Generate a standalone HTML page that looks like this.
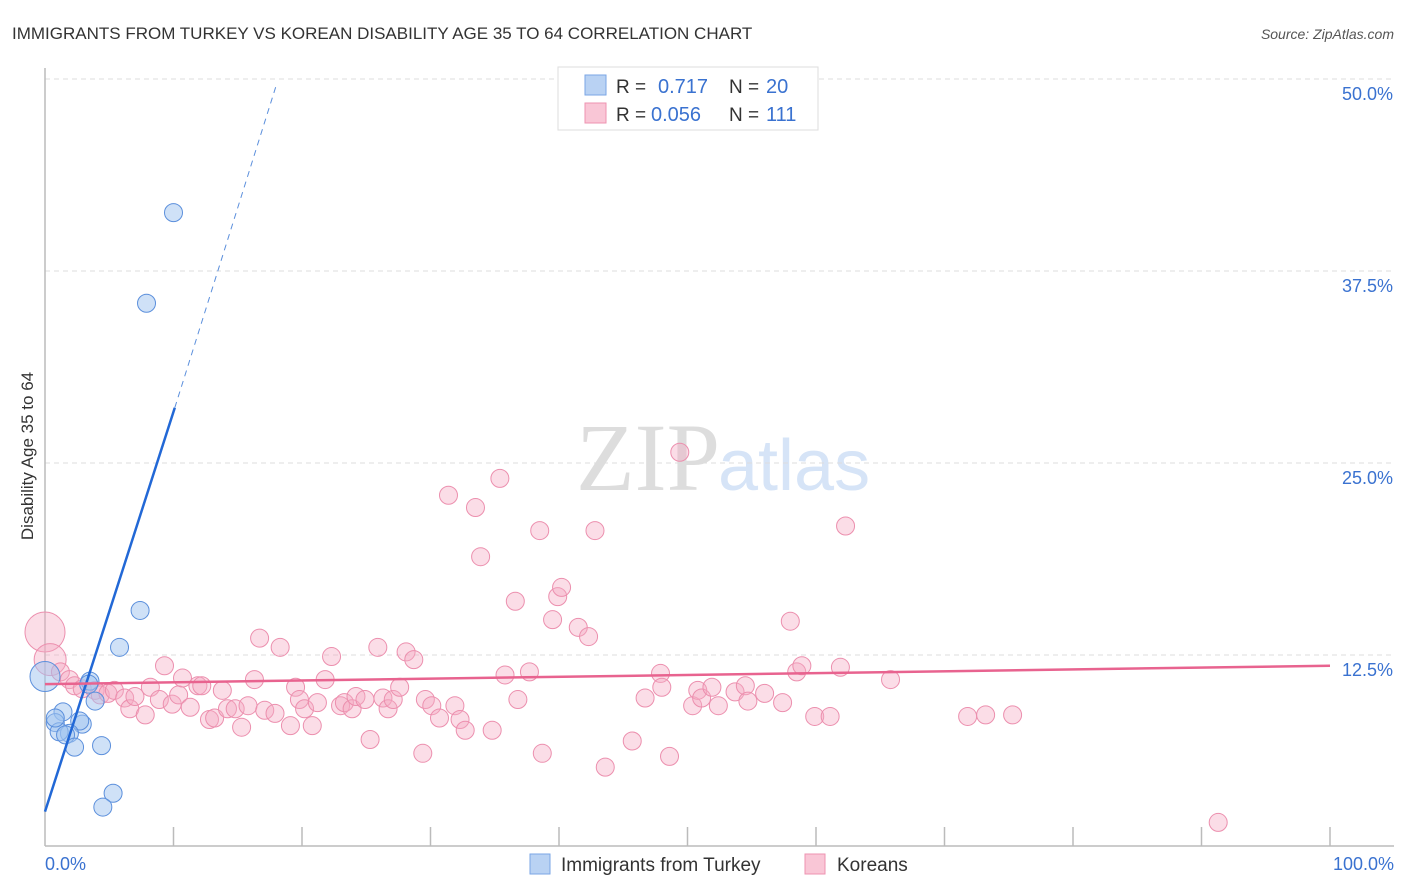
<!DOCTYPE html>
<html><head><meta charset="utf-8"><style>
body{margin:0;background:#fff;font-family:"Liberation Sans",sans-serif;}
svg{display:block}
</style></head><body>
<svg id="chart" width="1406" height="892" xmlns="http://www.w3.org/2000/svg">
<text x="12" y="39" font-size="17" fill="#333">IMMIGRANTS FROM TURKEY VS KOREAN DISABILITY AGE 35 TO 64 CORRELATION CHART</text>
<text x="1394" y="39" font-size="14" fill="#555" text-anchor="end" font-style="italic">Source: ZipAtlas.com</text>
<text x="720" y="490" font-size="96" text-anchor="end" fill="#ddd" font-family="Liberation Serif, serif">ZIP</text>
<text x="718" y="490" font-size="72" fill="#d6e4f7">atlas</text>
<g id="grid"></g>
<line x1="45" y1="68" x2="45" y2="846" stroke="#bbb" stroke-width="1.5"/>
<line x1="45" y1="846" x2="1394" y2="846" stroke="#bbb" stroke-width="1.5"/>
<text transform="translate(33,456) rotate(-90)" font-size="17" fill="#333" text-anchor="middle">Disability Age 35 to 64</text>
<text x="45" y="870" font-size="18" fill="#3a72d0">0.0%</text>
<text x="1394" y="870" font-size="18" fill="#3a72d0" text-anchor="end">100.0%</text>
<g id="pts"></g>
<g id="lines"></g>
<g>
<rect x="558" y="67" width="260" height="63" fill="#fff" stroke="#ddd"/>
<rect x="585" y="75" width="21" height="20" fill="#b9d2f3" stroke="#7aa6e6"/>
<rect x="585" y="103" width="21" height="20" fill="#f9c6d6" stroke="#ee93b0"/>
<text x="616" y="93" font-size="19" fill="#333">R = </text><text x="658" y="93" font-size="20" fill="#3a72d0">0.717</text>
<text x="729" y="93" font-size="19" fill="#333">N = </text><text x="766" y="93" font-size="20" fill="#3a72d0">20</text>
<text x="616" y="121" font-size="19" fill="#333">R = </text><text x="651" y="121" font-size="20" fill="#3a72d0">0.056</text>
<text x="729" y="121" font-size="19" fill="#333">N = </text><text x="766" y="121" font-size="20" fill="#3a72d0">111</text>
</g>
<g>
<rect x="530" y="854" width="20" height="20" fill="#b9d2f3" stroke="#7aa6e6"/>
<text x="561" y="871" font-size="19" fill="#333">Immigrants from Turkey</text>
<rect x="805" y="854" width="20" height="20" fill="#f9c6d6" stroke="#ee93b0"/>
<text x="837" y="871" font-size="19" fill="#333">Koreans</text>
</g>
</svg>
<script>
const yTicks=[12.5,25,37.5,50];
const yTickLabels=["12.5%","25.0%","37.5%","50.0%"];
const xTicks=[0,10,20,30,40,50,60,70,80,90,100];
const blueX=[0,10.0,7.9,7.4,5.8,3.5,3.9,3.4,1.4,0.8,2.9,2.7,1.9,1.1,1.6,2.3,4.4,5.3,4.5,0.8];
const blueY=[11.1,41.3,35.4,15.4,13.0,10.8,9.5,10.6,8.8,8.1,8.0,8.2,7.4,7.5,7.3,6.5,6.6,3.5,2.6,8.4];
const pinkX=[
0,0.4,1.2,1.9,2.3,2.9,3.9,4.3,4.9,5.4,
6.2,6.6,7.0,7.8,8.2,8.9,9.3,9.9,10.4,10.7,
11.3,11.9,12.2,12.8,13.2,13.8,14.2,14.8,15.3,15.8,
16.3,16.7,17.1,17.9,18.3,19.1,19.5,19.8,20.2,20.8,
21.2,21.8,22.3,23.0,23.3,23.9,24.2,24.9,25.3,25.9,
26.3,26.7,27.1,27.6,28.1,28.7,31.4,29.4,29.6,30.1,
30.7,31.9,32.3,32.7,33.5,33.9,34.8,35.4,35.8,36.6,
36.8,37.7,38.5,38.7,39.5,39.9,40.2,41.5,42.3,42.8,
43.6,45.7,46.7,47.9,48.0,48.6,49.4,50.4,50.8,51.1,
51.9,52.4,53.7,54.5,54.7,56.0,57.4,58.0,58.5,58.9,
59.9,61.1,61.9,62.3,65.8,71.8,73.2,75.3,91.3];
const pinkY=[
14.0,12.2,11.4,10.9,10.5,10.3,10.2,9.9,10.0,10.2,
9.7,9.0,9.8,8.6,10.4,9.6,11.8,9.3,9.9,11.0,
9.1,10.5,10.5,8.3,8.4,10.2,9.0,9.0,7.8,9.2,
10.9,13.6,8.9,8.7,13.0,7.9,10.4,9.6,9.0,7.9,
9.4,10.9,12.4,9.2,9.4,9.0,9.8,9.6,7.0,13.0,
9.7,9.0,9.6,10.4,12.7,12.2,22.9,6.1,9.6,9.2,
8.4,9.2,8.3,7.6,22.1,18.9,7.6,24.0,11.2,16.0,
9.6,11.4,20.6,6.1,14.8,16.3,16.9,14.3,13.7,20.6,
5.2,6.9,9.7,11.3,10.4,5.9,25.7,9.2,10.2,9.7,
10.4,9.2,10.1,10.5,9.5,10.0,9.4,14.7,11.4,11.8,
8.5,8.5,11.7,20.9,10.9,8.5,8.6,8.6,1.6];
const blueLine=[0,2.3,10.1,28.6,18.0,49.6];
const pinkLine=[0,10.6,100,11.8];
const X=v=>45+v*12.85, Y=v=>847-v*15.36;
const NS="http://www.w3.org/2000/svg";
const mk=(t,a,p)=>{const e=document.createElementNS(NS,t);for(const k in a)e.setAttribute(k,a[k]);p.appendChild(e);return e;};
const grid=document.getElementById('grid');
yTicks.forEach((t,i)=>{
 const l=mk('line',{x1:45,x2:1394,y1:Y(t),y2:Y(t),stroke:'#ddd','stroke-dasharray':'5,4'},grid);
 
 
 const tx=mk('text',{x:1393,y:Y(t)+21,'font-size':18,fill:'#3a72d0','text-anchor':'end'},grid);
 tx.textContent=yTickLabels[i];
 
 
});
xTicks.forEach(t=>{
 if(t===0)return;
 const l=mk('line',{x1:X(t),x2:X(t),y1:827,y2:846,stroke:'#bbb','stroke-width':1.5},grid);
 
 
});
const pts=document.getElementById('pts');
pinkX.forEach((x,i)=>{
 const r=i===0?20:(i===1?16:9);
 const c=mk('circle',{cx:X(x),cy:Y(pinkY[i]),r:r,fill:'rgba(246,170,196,0.4)',stroke:'#ec8fae','stroke-width':1},pts);
 
 
});
blueX.forEach((x,i)=>{
 const r=i===0?15:9;
 const c=mk('circle',{cx:X(x),cy:Y(blueY[i]),r:r,fill:'rgba(160,195,240,0.5)',stroke:'#5b8fdc','stroke-width':1},pts);
 
 
});
const lines=document.getElementById('lines');
const b1=mk('line',{x1:X(blueLine[0]),y1:Y(blueLine[1]),x2:X(blueLine[2]),y2:Y(blueLine[3]),stroke:'#2268d6','stroke-width':2.5},lines);


const b2=mk('line',{x1:X(blueLine[2]),y1:Y(blueLine[3]),x2:X(blueLine[4]),y2:Y(blueLine[5]),stroke:'#5b8fdc','stroke-width':1,'stroke-dasharray':'6,5'},lines);


const p1=mk('line',{x1:X(pinkLine[0]),y1:Y(pinkLine[1]),x2:X(pinkLine[2]),y2:Y(pinkLine[3]),stroke:'#e8638f','stroke-width':2.5},lines);


</script>
</body></html>
